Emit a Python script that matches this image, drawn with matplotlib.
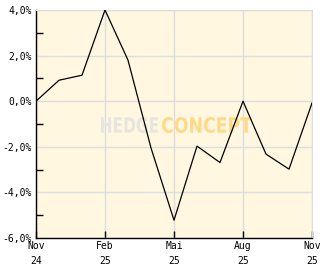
import matplotlib
matplotlib.use("Agg")
import matplotlib.pyplot as plt
from matplotlib.ticker import FixedLocator
from matplotlib.textpath import TextPath
from matplotlib.font_manager import FontProperties
from matplotlib.patches import PathPatch
from matplotlib.transforms import Affine2D, IdentityTransform

months = ["Nov 24", "Dez 24", "Jan 25", "Feb 25", "Mär 25", "Apr 25", "Mai 25",
          "Jun 25", "Jul 25", "Aug 25", "Sep 25", "Okt 25", "Nov 25"]
values = [0.0, 0.92, 1.14, 4.0, 1.8, -2.05, -5.22, -1.97, -2.69, 0.0, -2.32, -2.98, -0.08]
xtick_pos = [0, 3, 6, 9, 12]
xtick_labels = ["Nov\n24", "Feb\n25", "Mai\n25", "Aug\n25", "Nov\n25"]
ytick_vals = [4, 2, 0, -2, -4, -6]
ytick_labels = ["4,0%", "2,0%", "0,0%", "-2,0%", "-4,0%", "-6,0%"]
yminor_vals = [3, 1, -1, -3, -5]

W, H = 332, 269
fig = plt.figure(figsize=(W / 100, H / 100), dpi=100)
fig.patch.set_facecolor("white")
ax = fig.add_axes([36 / W, 31 / H, 276 / W, 228 / H])
ax.set_facecolor("#fff7e0")

x = list(range(len(values)))
ax.plot(x, values, color="black", lw=0.9, zorder=3)

ax.set_xlim(0, 12)
ax.set_ylim(-6, 4)
ax.set_xticks(xtick_pos)
ax.set_xticklabels(xtick_labels, fontsize=7, family="DejaVu Sans Mono", linespacing=1.6)
ax.set_yticks(ytick_vals)
ax.set_yticklabels(ytick_labels, fontsize=7, family="DejaVu Sans Mono")
ax.yaxis.set_minor_locator(FixedLocator(yminor_vals))

ax.grid(True, which="major", color="#dddddd", lw=1, zorder=1)
ax.tick_params(axis="x", which="major", direction="in", length=5, width=1, color="black", pad=2)
ax.tick_params(axis="y", which="major", length=0, pad=3)
ax.tick_params(axis="y", which="minor", direction="in", length=5, width=1, color="black")

for s in ["top", "right"]:
    ax.spines[s].set_color("#dddddd")
for s in ["left", "bottom"]:
    ax.spines[s].set_color("black")
    ax.spines[s].set_linewidth(1)

# watermark, drawn as condensed text paths in pixel space
fp = FontProperties(family="DejaVu Sans", weight="bold")


def watermark(txt, x0, x1, y_top, y_bot, color):
    tp = TextPath((0, 0), txt, size=22, prop=fp)
    ext = tp.get_extents()
    sx = (x1 - x0) / ext.width
    sy = (y_bot - y_top) / ext.height
    tr = Affine2D().translate(-ext.x0, -ext.y0).scale(sx, sy).translate(x0, H - y_bot)
    patch = PathPatch(tr.transform_path(tp), facecolor=color, edgecolor="none",
                      transform=IdentityTransform(), zorder=2)
    patch.set_clip_on(False)
    ax.add_artist(patch)


watermark("HEDGE", 101, 158, 117, 133, "#e8e5de")
watermark("CONCEPT", 162, 252, 117, 133, "#ffd98a")

fig.savefig("out.png", dpi=100, facecolor="white")
